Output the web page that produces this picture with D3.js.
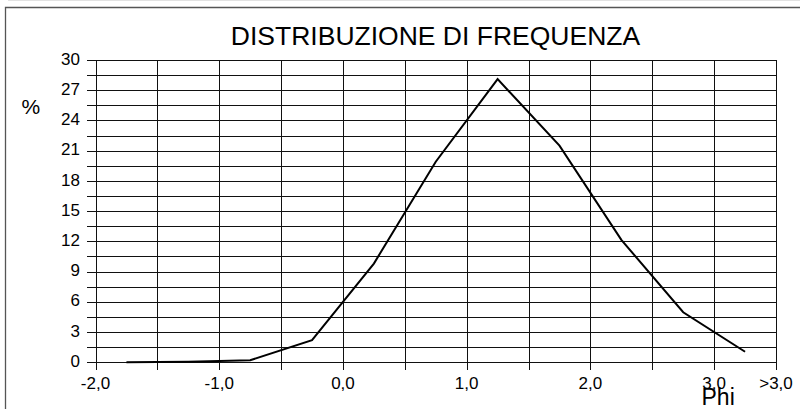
<!DOCTYPE html>
<html>
<head>
<meta charset="utf-8">
<script src="https://cdn.jsdelivr.net/npm/d3@7"></script>
<style>
  body { margin: 0; background: #fff; }
  svg { display: block; font-family: "Liberation Sans", Arial, sans-serif; }
</style>
</head>
<body>
<svg id="chart" width="800" height="409"></svg>
<script>
"use strict";

// Data (class midpoints in phi, percent)
var phiMid = [-1.75, -1.25, -0.75, -0.25, 0.25, 0.75, 1.25, 1.75, 2.25, 2.75, 3.25];
var freq   = [0.0, 0.05, 0.2, 2.2, 9.8, 19.9, 28.1, 21.5, 12.15, 4.97, 1.05];
var xTicks = [-2, -1.5, -1, -0.5, 0, 0.5, 1, 1.5, 2, 2.5, 3, 3.5];
var xTickLabels = ["-2,0", "", "-1,0", "", "0,0", "", "1,0", "", "2,0", "", "3,0", ">3,0"];
var yTicks = d3.range(0, 30.01, 1.5);

var svg = d3.select("#chart");

var x = d3.scaleLinear().domain([-2, 3.5]).range([95.5, 776]);
var y = d3.scaleLinear().domain([0, 30]).range([362.3, 60]);

//
// Frame
//
svg.append("line")
	.attr("x1", 8).attr("x2", 800).attr("y1", 0.5).attr("y2", 0.5)
	.attr("stroke", "#e2e2e2");
svg.append("path")
	.attr("d", "M5.5,409V7.5H800")
	.attr("fill", "none")
	.attr("stroke", "#555")
	.attr("stroke-width", 1.3);

//
// Grid
//
var grid = svg.append("g")
	.attr("shape-rendering", "crispEdges")
	.attr("stroke", "#111")
	.attr("stroke-width", 1);

grid.selectAll(".hgrid")
	.data(yTicks)
	.enter()
	.append("line")
	.attr("class", "hgrid")
	.attr("x1", 87).attr("x2", x(3.5))
	.attr("y1", function(d) { return Math.round(y(d)) + 0.5; })
	.attr("y2", function(d) { return Math.round(y(d)) + 0.5; });

grid.selectAll(".vgrid")
	.data(xTicks)
	.enter()
	.append("line")
	.attr("class", "vgrid")
	.attr("y1", y(30)).attr("y2", 370)
	.attr("x1", function(d) { return Math.round(x(d)) + 0.5; })
	.attr("x2", function(d) { return Math.round(x(d)) + 0.5; });

//
// Axis labels
//
svg.selectAll(".ylab")
	.data(yTicks.filter(function(d) { return d % 3 === 0; }))
	.enter()
	.append("text")
	.attr("class", "ylab")
	.attr("x", 80)
	.attr("y", function(d) { return y(d) + 4.6; })
	.attr("text-anchor", "end")
	.attr("font-size", 17)
	.text(function(d) { return d; });

svg.selectAll(".xlab")
	.data(xTicks)
	.enter()
	.append("text")
	.attr("class", "xlab")
	.attr("x", function(d) { return x(d); })
	.attr("y", 388.5)
	.attr("text-anchor", "middle")
	.attr("font-size", 17)
	.text(function(d, i) { return xTickLabels[i]; });

svg.append("text")
	.attr("x", 435.5)
	.attr("y", 45)
	.attr("text-anchor", "middle")
	.attr("font-size", 26.5)
	.text("DISTRIBUZIONE DI FREQUENZA");

svg.append("text")
	.attr("x", 21.5)
	.attr("y", 114)
	.attr("font-size", 21)
	.text("%");

svg.append("text")
	.attr("x", 701.5)
	.attr("y", 405)
	.attr("font-size", 23)
	.text("Phi");

//
// Line
//
var line = d3.line()
	.x(function(d, i) { return x(phiMid[i]); })
	.y(function(d) { return y(d); });

svg.append("path")
	.datum(freq)
	.attr("d", line)
	.attr("fill", "none")
	.attr("stroke", "#000")
	.attr("stroke-width", 2);
</script>
</body>
</html>
